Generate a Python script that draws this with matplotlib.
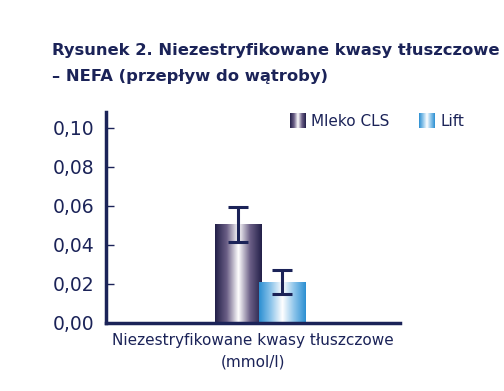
import numpy as np
import matplotlib
matplotlib.use("Agg")
import matplotlib.pyplot as plt
from matplotlib.colors import LinearSegmentedColormap

# data
category = "Niezestryfikowane kwasy tłuszczowe\n(mmol/l)"
series = ["Mleko CLS", "Lift"]
values = [0.0505, 0.021]
errors = [0.009, 0.006]
yticks = [0.00, 0.02, 0.04, 0.06, 0.08, 0.10]
ytick_labels = ["0,00", "0,02", "0,04", "0,06", "0,08", "0,10"]

navy = "#1b2358"
cmaps = [
    LinearSegmentedColormap.from_list("mleko", ["#221f48", "#6b5f86", "#ffffff", "#6b5f86", "#221f48"]),
    LinearSegmentedColormap.from_list("lift", ["#2b8fd2", "#8cc4ea", "#ffffff", "#8cc4ea", "#2b8fd2"]),
]

plt.rcParams["font.family"] = ["DejaVu Sans"]

fig = plt.figure(figsize=(5.04, 3.91), dpi=100)
ax = fig.add_axes([0.210, 0.174, 0.583, 0.540])

offsets = [-0.075, 0.075]
width = 0.157
grad = np.linspace(0, 1, 256).reshape(1, -1)

for i, name in enumerate(series):
    x = offsets[i]
    bar = ax.bar(x, values[i], width=width, color="none", edgecolor="none", zorder=2)[0]
    im = ax.imshow(grad, cmap=cmaps[i], aspect="auto", zorder=2,
                   extent=[x - width / 2, x + width / 2, 0, values[i]])
    im.set_clip_path(bar)
    ax.errorbar(x, values[i], yerr=errors[i], fmt="none", ecolor=navy,
                elinewidth=2.2, capsize=7, capthick=2.2, zorder=3)

ax.set_xlim(-0.524, 0.476)
ax.set_ylim(0, 0.1082)
ax.set_yticks(yticks)
ax.set_yticklabels(ytick_labels)
ax.set_xticks([])
ax.set_xlabel(category, color=navy, fontsize=11, labelpad=7, linespacing=1.6)

for side in ["top", "right"]:
    ax.spines[side].set_visible(False)
for side in ["left", "bottom"]:
    ax.spines[side].set_color(navy)
    ax.spines[side].set_linewidth(2.5)
ax.tick_params(axis="y", direction="in", length=6, width=1, color=navy,
               labelcolor=navy, labelsize=13.5, pad=8)

# legend with gradient swatches
legend_pos = [(0.626, "Mleko CLS"), (1.068, "Lift")]
for i, (lx, name) in enumerate(legend_pos):
    sw = fig.add_axes([(106 + lx * 294) / 504 - 0.001, 1 - 128 / 391, 16 / 504, 15 / 391])
    sw.imshow(grad, cmap=cmaps[i], aspect="auto")
    sw.axis("off")
    fig.text((106 + lx * 294 + 21) / 504, 1 - 121 / 391, name, color=navy,
             fontsize=11, va="center", ha="left")

fig.text(52 / 504, 1 - 50 / 391, "Rysunek 2. Niezestryfikowane kwasy tłuszczowe",
         color=navy, fontsize=11.8, fontweight="bold", va="center", ha="left")
fig.text(52 / 504, 1 - 76 / 391, "– NEFA (przepływ do wątroby)",
         color=navy, fontsize=11.8, fontweight="bold", va="center", ha="left")

fig.savefig("out.png", dpi=100)
